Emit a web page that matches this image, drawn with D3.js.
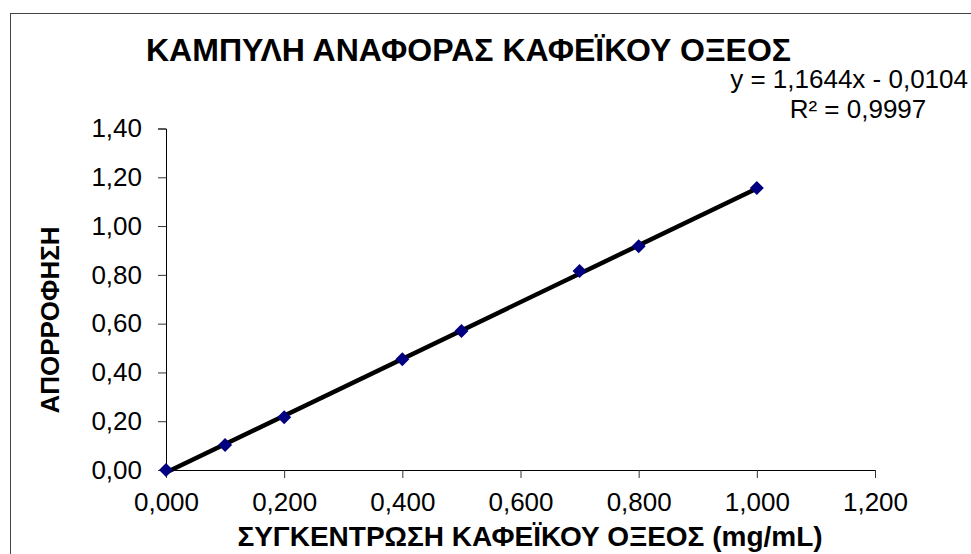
<!DOCTYPE html>
<html>
<head>
<meta charset="utf-8">
<script src="https://cdn.jsdelivr.net/npm/d3@7"></script>
<style>
  html, body { margin: 0; padding: 0; background: #fff; }
  svg { display: block; font-family: "Liberation Sans", Arial, sans-serif; }
</style>
</head>
<body>
<svg id="chart" width="971" height="554"></svg>
<script>
// Calibration data: caffeic acid concentration (mg/mL) vs absorbance
const concentrations = [0.0, 0.1, 0.2, 0.4, 0.5, 0.7, 0.8, 1.0];
const absorbances    = [0.000, 0.102, 0.216, 0.454, 0.570, 0.816, 0.917, 1.156];

// Linear trendline as reported on the chart
const slope = 1.1644;
const intercept = -0.0104;
const rSquared = 0.9997;

const xTicks = [0, 0.2, 0.4, 0.6, 0.8, 1.0, 1.2];
const yTicks = [0, 0.2, 0.4, 0.6, 0.8, 1.0, 1.2, 1.4];

const titleText = "ΚΑΜΠΥΛΗ ΑΝΑΦΟΡΑΣ ΚΑΦΕΪΚΟΥ ΟΞΕΟΣ";
const xTitle = "ΣΥΓΚΕΝΤΡΩΣΗ ΚΑΦΕΪΚΟΥ ΟΞΕΟΣ (mg/mL)";
const yTitle = "ΑΠΟΡΡΟΦΗΣΗ";

const svg = d3.select("#chart");
const fmt = (d, n) => d.toFixed(n).replace(".", ",");

// chart frame
svg.append("rect")
  .attr("x", 10.5).attr("y", 13.5)
  .attr("width", 980).attr("height", 560)
  .attr("fill", "#fff").attr("stroke", "#444").attr("stroke-width", 1);

const x = d3.scaleLinear().domain([0, 1.2]).range([166, 875]);
const y = d3.scaleLinear().domain([0, 1.4]).range([470, 128.5]);

// x axis
const xAxis = svg.append("g")
  .attr("transform", `translate(0,${y(0)})`)
  .call(d3.axisBottom(x).tickValues(xTicks).tickSize(8).tickPadding(15)
    .tickFormat(d => fmt(d, 3)));
// y axis
const yAxis = svg.append("g")
  .attr("transform", `translate(${x(0)},0)`)
  .call(d3.axisLeft(y).tickValues(yTicks).tickSize(8).tickPadding(16)
    .tickFormat(d => fmt(d, 2)));

[xAxis, yAxis].forEach(g => {
  g.select(".domain").attr("stroke", "#000").attr("stroke-width", 1);
  g.selectAll(".tick line").attr("stroke", "#333");
  g.selectAll(".tick text")
    .attr("fill", "#000")
    .style("font-size", "26px")
    .style("font-family", "'Liberation Sans', Arial, sans-serif");
});

// trendline over the data range
const xr = d3.extent(concentrations);
svg.append("line")
  .attr("x1", x(xr[0])).attr("y1", y(slope * xr[0] + intercept))
  .attr("x2", x(xr[1])).attr("y2", y(slope * xr[1] + intercept))
  .attr("stroke", "#000").attr("stroke-width", 4.5);

// data markers (diamonds)
const pts = concentrations.map((c, i) => ({ c, a: absorbances[i] }));
svg.append("g").selectAll("path").data(pts).join("path")
  .attr("transform", d => `translate(${x(d.c)},${y(d.a)})`)
  .attr("d", "M0,-7L7,0L0,7L-7,0Z")
  .attr("fill", "#000080");

// titles
svg.append("text")
  .attr("x", 146).attr("y", 61)
  .attr("font-size", 32).attr("font-weight", "bold")
  .text(titleText);

svg.append("text")
  .attr("x", 530).attr("y", 546)
  .attr("text-anchor", "middle")
  .attr("font-size", 28).attr("font-weight", "bold")
  .text(xTitle);

svg.append("text")
  .attr("transform", "translate(59,320) rotate(-90)")
  .attr("text-anchor", "middle")
  .attr("font-size", 26).attr("font-weight", "bold")
  .text(yTitle);

// trendline equation
svg.append("text")
  .attr("x", 968).attr("y", 88)
  .attr("text-anchor", "end")
  .attr("font-size", 26)
  .text(`y = ${fmt(slope, 4)}x - ${fmt(-intercept, 4)}`);
svg.append("text")
  .attr("x", 858).attr("y", 118)
  .attr("text-anchor", "middle")
  .attr("font-size", 26)
  .text(`R² = ${fmt(rSquared, 4)}`);
</script>
</body>
</html>
